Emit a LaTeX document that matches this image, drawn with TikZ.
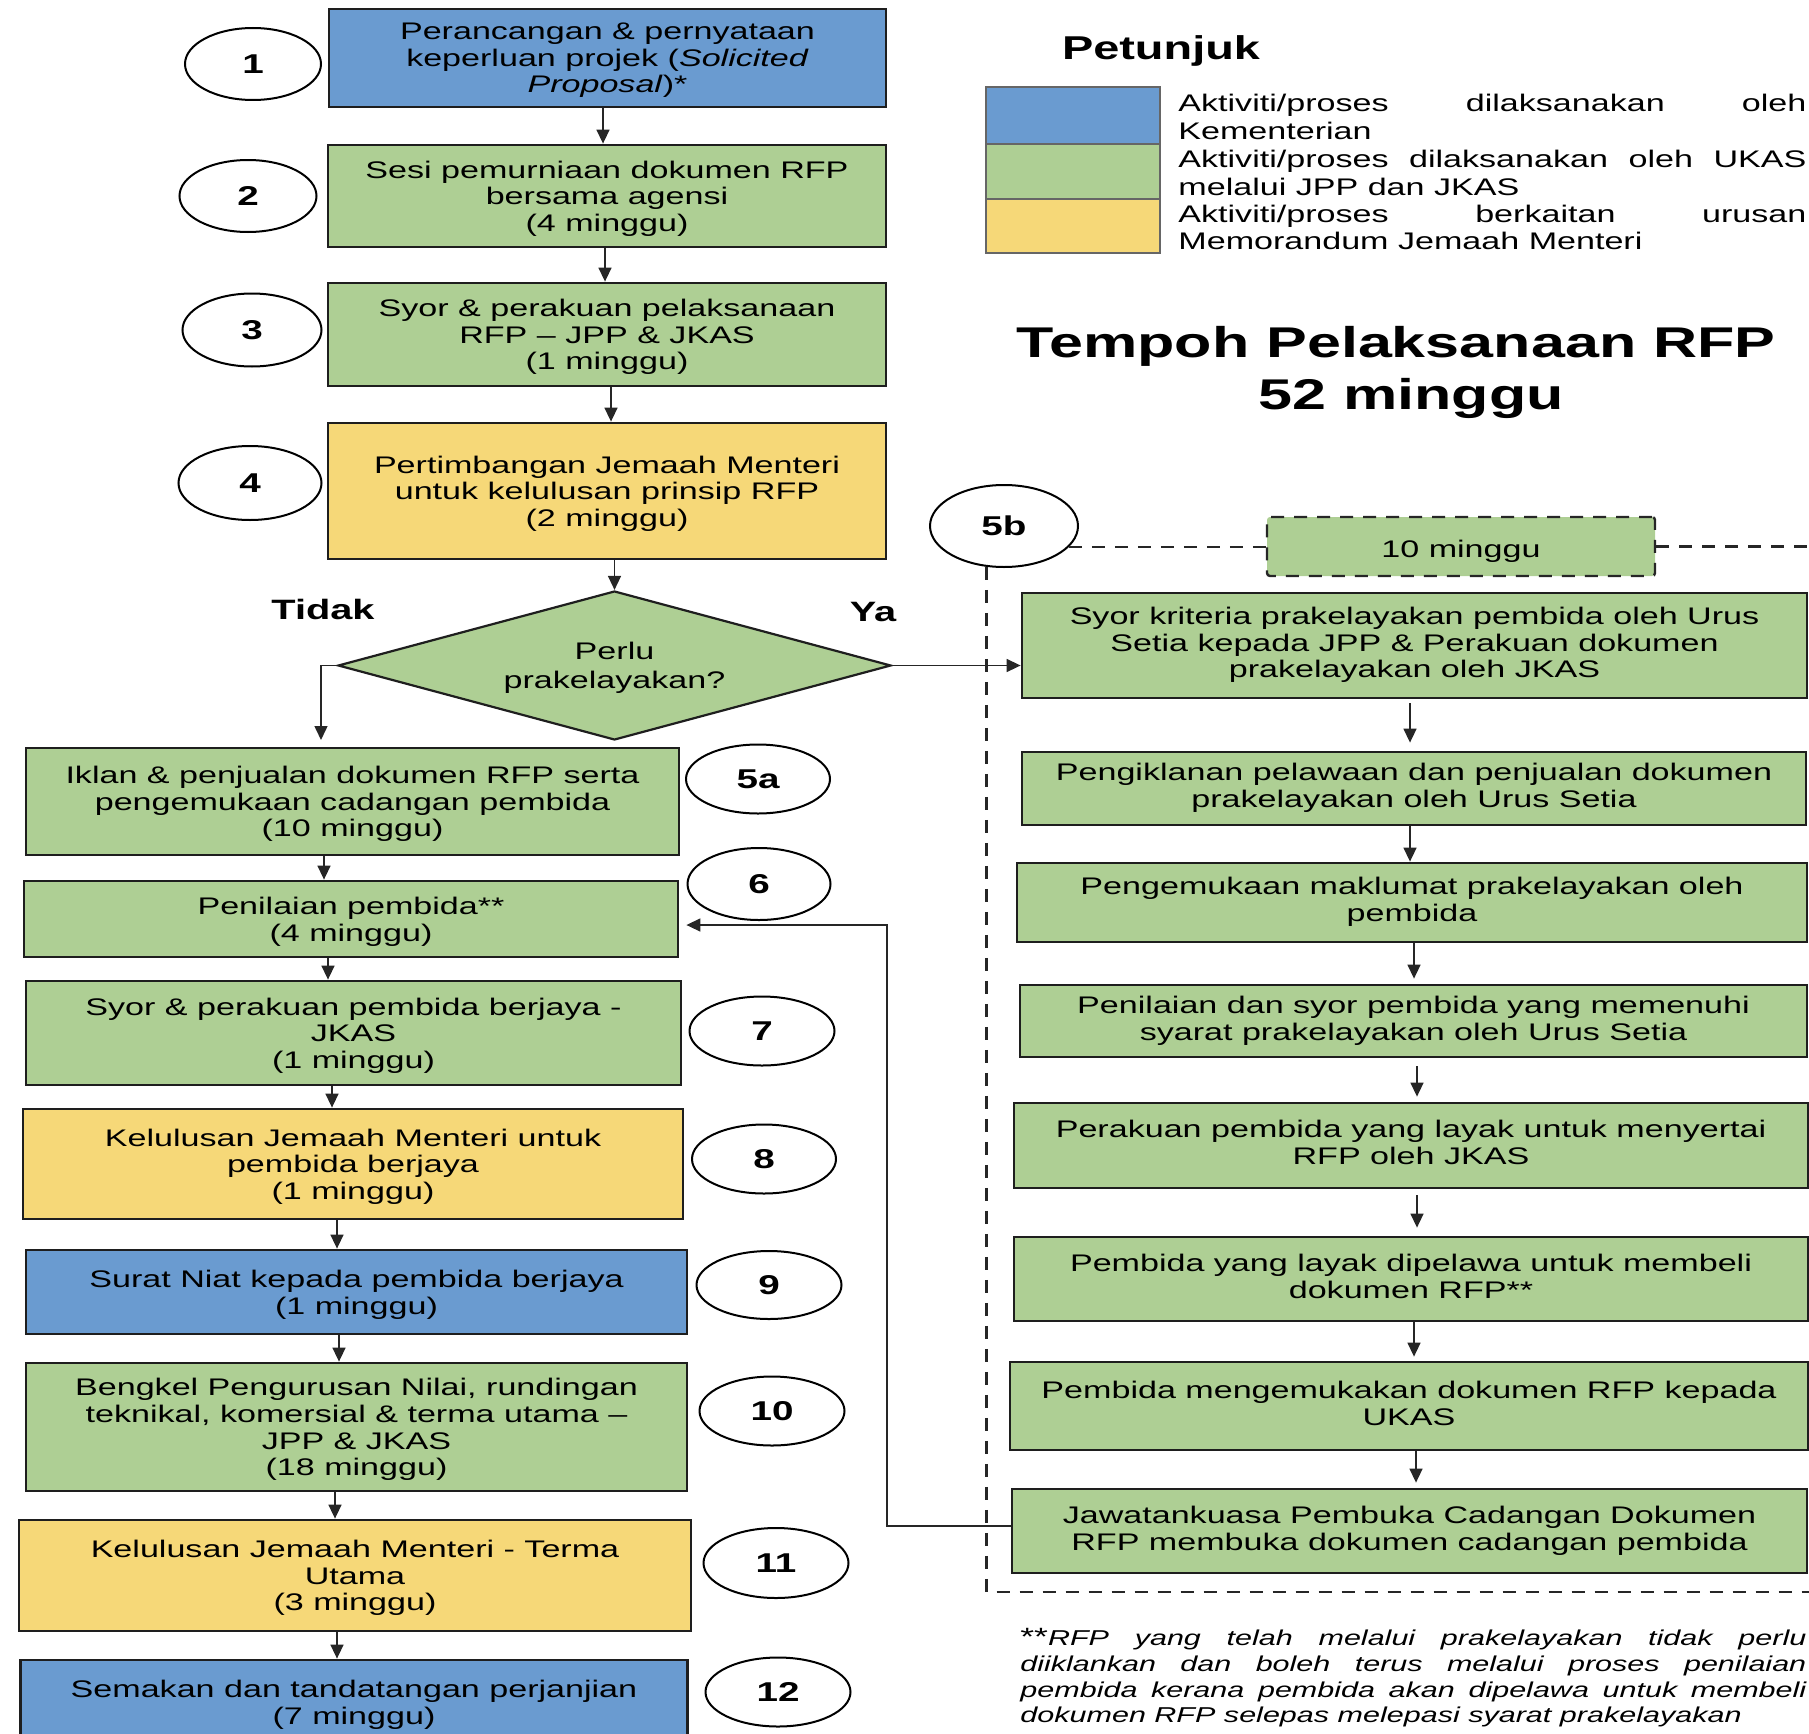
\documentclass[tikz,border=0pt]{standalone}
\usepackage{fontspec}
\setmainfont{Liberation Sans}[FakeStretch=1.42]
\usetikzlibrary{shapes.geometric,arrows.meta}
\definecolor{kblue}{RGB}{106,155,208}
\definecolor{kgreen}{RGB}{174,207,148}
\definecolor{kyellow}{RGB}{246,216,120}
\definecolor{bordc}{RGB}{30,30,30}
\newcommand{\varr}[4][]{\path (#2) ++(#3,0) coordinate (tmpa); \draw[arr,#1] (tmpa) -- (tmpa |- #4);}
\begin{document}
\begin{tikzpicture}[x=0.5pt,y=-0.5pt,
  sz/.style 2 args={minimum width=#1*0.5pt,minimum height=#2*0.5pt},
  box/.style={draw=bordc,line width=1.4pt,inner sep=0pt,align=center,font=\fontsize{12}{13.3}\selectfont},
  lstrut/.style={text depth=-0.8pt},
  rstrut/.style={execute at end node={\rule[-3pt]{0pt}{3pt}}},
  bb/.style={box,lstrut,fill=kblue},
  gb/.style={box,lstrut,fill=kgreen},
  yb/.style={box,lstrut,fill=kyellow},
  rb/.style={box,rstrut,fill=kgreen},
  num/.style={ellipse,draw=black,line width=1pt,fill=white,inner sep=0pt,font=\fontsize{13.6}{15}\selectfont\bfseries},
  arr/.style={-{Triangle[width=6.5pt,length=7pt]},line width=0.75pt,draw=black!85},
  dsh/.style={dash pattern=on 6.5pt off 5pt,line width=1.2pt,draw=black!85},
  sw/.style={draw=black!60,line width=0.7pt,inner sep=0pt},
  lt/.style={anchor=west,text width=314pt,align=justify,inner sep=0pt,font=\fontsize{12}{13.7}\selectfont},
  lbl/.style={font=\fontsize{14}{16}\selectfont\bfseries,inner sep=0pt}
]
\useasboundingbox (0,0) rectangle (1809,1734);
\clip (0,0) rectangle (1809,1734);

% ---------- left column ----------
\node[bb,sz={557}{98},text depth=-4.3pt] (b1) at (607.5,58) {Perancangan \& pernyataan\\keperluan projek (\textit{Solicited}\\\textit{Proposal})*};
\node[gb,sz={558}{102}] (b2) at (607,196) {Sesi pemurniaan dokumen RFP\\bersama agensi\\(4 minggu)};
\node[gb,sz={558}{103}] (b3) at (607,334.5) {Syor \& perakuan pelaksanaan\\RFP – JPP \& JKAS\\(1 minggu)};
\node[yb,sz={558}{136}] (b4) at (607,491) {Pertimbangan Jemaah Menteri\\untuk kelulusan prinsip RFP\\(2 minggu)};
\node[diamond,lstrut,draw=bordc,line width=1.1pt,fill=kgreen,shape aspect=3.7,minimum width=276.5pt,minimum height=74.5pt,inner sep=0pt,align=center,font=\fontsize{12}{14.5}\selectfont] (d) at (614.5,665.5) {Perlu\\prakelayakan?};

\node[gb,sz={653}{107}] (b5a) at (352.5,801.5) {Iklan \& penjualan dokumen RFP serta\\pengemukaan cadangan pembida\\(10 minggu)};
\node[gb,sz={654}{76}] (b6) at (351,919) {Penilaian pembida**\\(4 minggu)};
\node[gb,sz={655}{104}] (b7) at (353.5,1033) {Syor \& perakuan pembida berjaya -\\JKAS\\(1 minggu)};
\node[yb,sz={660}{110}] (b8) at (353,1164) {Kelulusan Jemaah Menteri untuk\\pembida berjaya\\(1 minggu)};
\node[bb,sz={661}{84}] (b9) at (356.5,1292) {Surat Niat kepada pembida berjaya\\(1 minggu)};
\node[gb,sz={661}{128}] (b10) at (356.5,1427) {Bengkel Pengurusan Nilai, rundingan\\teknikal, komersial \& terma utama –\\JPP \& JKAS\\(18 minggu)};
\node[yb,sz={672}{111}] (b11) at (355,1575.5) {Kelulusan Jemaah Menteri - Terma\\Utama\\(3 minggu)};
\node[bb,sz={667}{84}] (b12) at (354,1702) {Semakan dan tandatangan perjanjian\\(7 minggu)};

% ---------- number ellipses ----------
\node[num,sz={136}{72}] (e1) at (253,64) {1};
\node[num,sz={137}{72}] (e2) at (248,196) {2};
\node[num,sz={139}{73}] (e3) at (252,330) {3};
\node[num,sz={143}{74}] (e4) at (250,483) {4};
\node[num,sz={144}{69}] (e5a) at (758,779) {5a};
\node[num,sz={143}{72}] (e6) at (759,884) {6};
\node[num,sz={145}{69}] (e7) at (762,1031) {7};
\node[num,sz={144}{69}] (e8) at (764,1159) {8};
\node[num,sz={145}{68}] (e9) at (769,1285) {9};
\node[num,sz={145}{69}] (e10) at (772,1411) {10};
\node[num,sz={145}{70}] (e11) at (776,1563) {11};
\node[num,sz={145}{69}] (e12) at (778,1692) {12};
\node[num,sz={148}{82}] (e5b) at (1004,526) {5b};

% ---------- labels ----------
\node[lbl] (tidak) at (323,609) {Tidak};
\node[lbl] (ya) at (873,612) {Ya};

% ---------- right column ----------
\node[draw=black!85,dsh,fill=kgreen,rounded corners=1.5pt,sz={388}{59},inner sep=0pt,font=\fontsize{12}{13.3}\selectfont,execute at begin node={\rule{0pt}{13.2pt}}] (ten) at (1461,546.5) {10 minggu};
\node[rb,sz={785}{105}] (r1) at (1414.5,645.5) {Syor kriteria prakelayakan pembida oleh Urus\\Setia kepada JPP \& Perakuan dokumen\\prakelayakan oleh JKAS};
\node[rb,sz={784}{73}] (r2) at (1414,788.5) {Pengiklanan pelawaan dan penjualan dokumen\\prakelayakan oleh Urus Setia};
\node[rb,sz={790}{79}] (r3) at (1412,902.5) {Pengemukaan maklumat prakelayakan oleh\\pembida};
\node[rb,sz={787}{72}] (r4) at (1413.5,1021) {Penilaian dan syor pembida yang memenuhi\\syarat prakelayakan oleh Urus Setia};
\node[rb,sz={794}{85}] (r5) at (1411,1145.5) {Perakuan pembida yang layak untuk menyertai\\RFP oleh JKAS};
\node[rb,sz={794}{84}] (r6) at (1411,1279) {Pembida yang layak dipelawa untuk membeli\\dokumen RFP**};
\node[rb,sz={798}{88}] (r7) at (1409,1406) {Pembida mengemukakan dokumen RFP kepada\\UKAS};
\node[rb,sz={795}{84}] (r8) at (1409.5,1531) {Jawatankuasa Pembuka Cadangan Dokumen\\RFP membuka dokumen cadangan pembida};

% ---------- dashed frame ----------
\coordinate (fc) at (987,1592);
\draw[dsh] (e5b.-18) -- (e5b.-18 -| ten.west);
\draw[dsh] (ten.east) -- ++(220,0);
\draw[dsh] (e5b.-113) |- ([xshift=450pt]fc);

% ---------- legend ----------
\node[font=\fontsize{16.5}{18}\selectfont\bfseries,inner sep=0pt] (pt) at (1161,50.5) {Petunjuk};
\node[sw,fill=kblue,sz={174}{57}] (lb) at (1073,115.5) {};
\node[sw,fill=kgreen,sz={174}{55}] (lg) at (1073,171.5) {};
\node[sw,fill=kyellow,sz={174}{54}] (ly) at (1073,226) {};
\node[lt] (l1) at (1178,117) {Aktiviti/proses dilaksanakan oleh\linebreak Kementerian};
\node[lt] (l2) at (1178,173) {Aktiviti/proses dilaksanakan oleh UKAS\linebreak melalui JPP dan JKAS};
\node[lt] (l3) at (1178,227.5) {Aktiviti/proses berkaitan urusan\linebreak Memorandum Jemaah Menteri};

% ---------- title ----------
\node[font=\fontsize{21.5}{27}\selectfont\bfseries,inner sep=0pt] (t1) at (1396,346) {Tempoh Pelaksanaan RFP};
\node[font=\fontsize{21.5}{27}\selectfont\bfseries,inner sep=0pt] (t2) at (1411,398) {52 minggu};

% ---------- footnote ----------
\node[anchor=north west,text width=393pt,align=justify,inner sep=0pt,font=\fontsize{10.75}{12.85}\selectfont\itshape] (fn) at (1020,1628) {{\upshape\fontsize{12.5}{12.85}\selectfont **}RFP yang telah melalui prakelayakan tidak perlu\linebreak diiklankan dan boleh terus melalui proses penilaian\linebreak pembida kerana pembida akan dipelawa untuk membeli\linebreak dokumen RFP selepas melepasi syarat prakelayakan};

% ---------- connectors ----------
\varr{b1.south}{-4.5}{b2.north}
\varr{b2.south}{-2}{b3.north}
\varr{b3.south}{4}{b4.north}
\draw[arr] (b4.south -| d.north) -- (d.north);
\coordinate (tid) at (321,740);
\draw[arr] (d.west) -| (tid);
\draw[arr] (d.east) -- (d.east -| r1.west);
\varr{b5a.south}{-28.5}{b6.north}
\varr{b6.south}{-23}{b7.north}
\varr{b7.south}{-21.5}{b8.north}
\varr{b8.south}{-16}{b9.north}
\varr{b9.south}{-17.5}{b10.north}
\varr{b10.south}{-21.5}{b11.north}
\varr{b11.south}{-18}{b12.north}

\varr[shorten <=2pt,shorten >=4pt]{r1.south}{-4.5}{r2.north}
\varr{r2.south}{-4}{r3.north}
\varr[shorten >=2.5pt]{r3.south}{2}{r4.north}
\varr[shorten <=4pt,shorten >=2.5pt]{r4.south}{3.5}{r5.north}
\varr[shorten <=3pt,shorten >=4pt]{r5.south}{6}{r6.north}
\varr[shorten >=2pt]{r6.south}{3}{r7.north}
\varr[shorten >=2.5pt]{r7.south}{7}{r8.north}

\coordinate (fb) at (887,925);
\draw[arr,shorten >=3.5pt] ([yshift=2.5pt]r8.west) -| (fb) -- (fb -| b6.east);
\end{tikzpicture}
\end{document}
